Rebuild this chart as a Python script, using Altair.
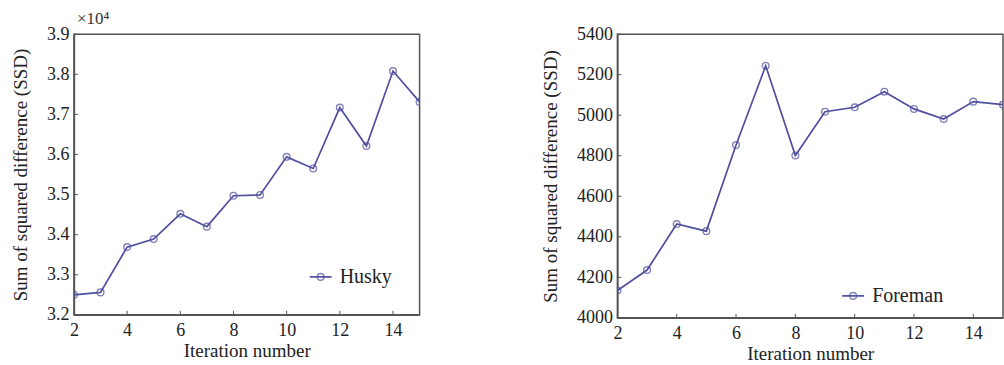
import altair as alt
import pandas as pd

iters = list(range(2, 16))
husky = [3.250, 3.256, 3.369, 3.389, 3.452, 3.420, 3.497, 3.499, 3.594, 3.565, 3.717, 3.621, 3.808, 3.731]
foreman = [4135, 4236, 4463, 4428, 4853, 5244, 4801, 5017, 5039, 5116, 5031, 4981, 5067, 5052]

x_ticks = [2, 4, 6, 8, 10, 12, 14]
husky_ticks = [3.2, 3.3, 3.4, 3.5, 3.6, 3.7, 3.8, 3.9]
foreman_ticks = [4000, 4200, 4400, 4600, 4800, 5000, 5200, 5400]

COLOR = "#4f4f9e"
AXC = "#555555"
FONT = "Liberation Serif"


def panel(values, name, ydomain, yticks, yfmt, width, height, leg_x, leg_y, extra_text=None):
    df = pd.DataFrame({"x": iters, "y": values})
    xs = alt.X("x:Q", scale=alt.Scale(domain=[2, 15], nice=False),
               axis=alt.Axis(values=x_ticks, title="Iteration number", tickSize=0,
                             labelPadding=7, titlePadding=2, grid=False,
                             labelFlush=False))
    ys = alt.Y("y:Q", scale=alt.Scale(domain=ydomain, nice=False, zero=False),
               axis=alt.Axis(values=yticks, format=yfmt, title="Sum of squared difference (SSD)",
                             tickSize=0, labelPadding=5, titlePadding=16, grid=False,
                             labelFlush=False))
    base = alt.Chart(df).encode(x=xs, y=ys)
    line = base.mark_line(color=COLOR, strokeWidth=1.7, clip=True)
    pts = base.mark_point(shape="circle", size=45, filled=False, color=COLOR, strokeWidth=1.4,
                          clip=True)
    xt = alt.Chart(pd.DataFrame({"t": x_ticks})).mark_rule(color=AXC, strokeWidth=1).encode(
        x=alt.X("t:Q", scale=alt.Scale(domain=[2, 15], nice=False)),
        y=alt.value(height), y2=alt.value(height - 4))
    yt = alt.Chart(pd.DataFrame({"t": yticks})).mark_rule(color=AXC, strokeWidth=1).encode(
        y=alt.Y("t:Q", scale=alt.Scale(domain=ydomain, nice=False, zero=False)),
        x=alt.value(0), x2=alt.value(4))
    leg_line = alt.Chart(pd.DataFrame({"a": [0]})).mark_rule(color=COLOR, strokeWidth=1.7).encode(
        x=alt.value(leg_x), x2=alt.value(leg_x + 22), y=alt.value(leg_y))
    leg_pt = alt.Chart(pd.DataFrame({"a": [0]})).mark_point(
        shape="circle", size=45, filled=False, color=COLOR, strokeWidth=1.4).encode(
        x=alt.value(leg_x + 11), y=alt.value(leg_y))
    leg_txt = alt.Chart(pd.DataFrame({"a": [0]})).mark_text(
        text=name, font=FONT, fontSize=20, align="left", baseline="middle", color="#222222").encode(
        x=alt.value(leg_x + 30), y=alt.value(leg_y))
    layers = [line, pts, xt, yt, leg_line, leg_pt, leg_txt]
    if extra_text:
        layers.append(alt.Chart(pd.DataFrame({"a": [0]})).mark_text(
            text=extra_text, font=FONT, fontSize=17, align="left", baseline="bottom",
            color="#333333").encode(x=alt.value(3), y=alt.value(-6)))
    return alt.layer(*layers).properties(width=width, height=height)


left = panel(husky, "Husky", [3.2, 3.9], husky_ticks, ".1f", 346, 281, 236, 243, "×10⁴")
right = panel(foreman, "Foreman", [4000, 5400], foreman_ticks, "d", 386, 284, 225, 262)

chart = alt.hconcat(left, right, spacing=120).configure(
    background="white", padding={"left": 10, "top": 9, "right": 0, "bottom": 0}
).configure_view(
    stroke=AXC, strokeWidth=1.5
).configure_axis(
    domainColor=AXC, domainWidth=1.5, labelFont=FONT, titleFont=FONT,
    labelFontSize=18, titleFontSize=19, labelColor="#222222", titleColor="#222222",
    titleFontWeight="normal"
)

chart.save("out.html", embed_options={"renderer": "svg", "actions": False})
